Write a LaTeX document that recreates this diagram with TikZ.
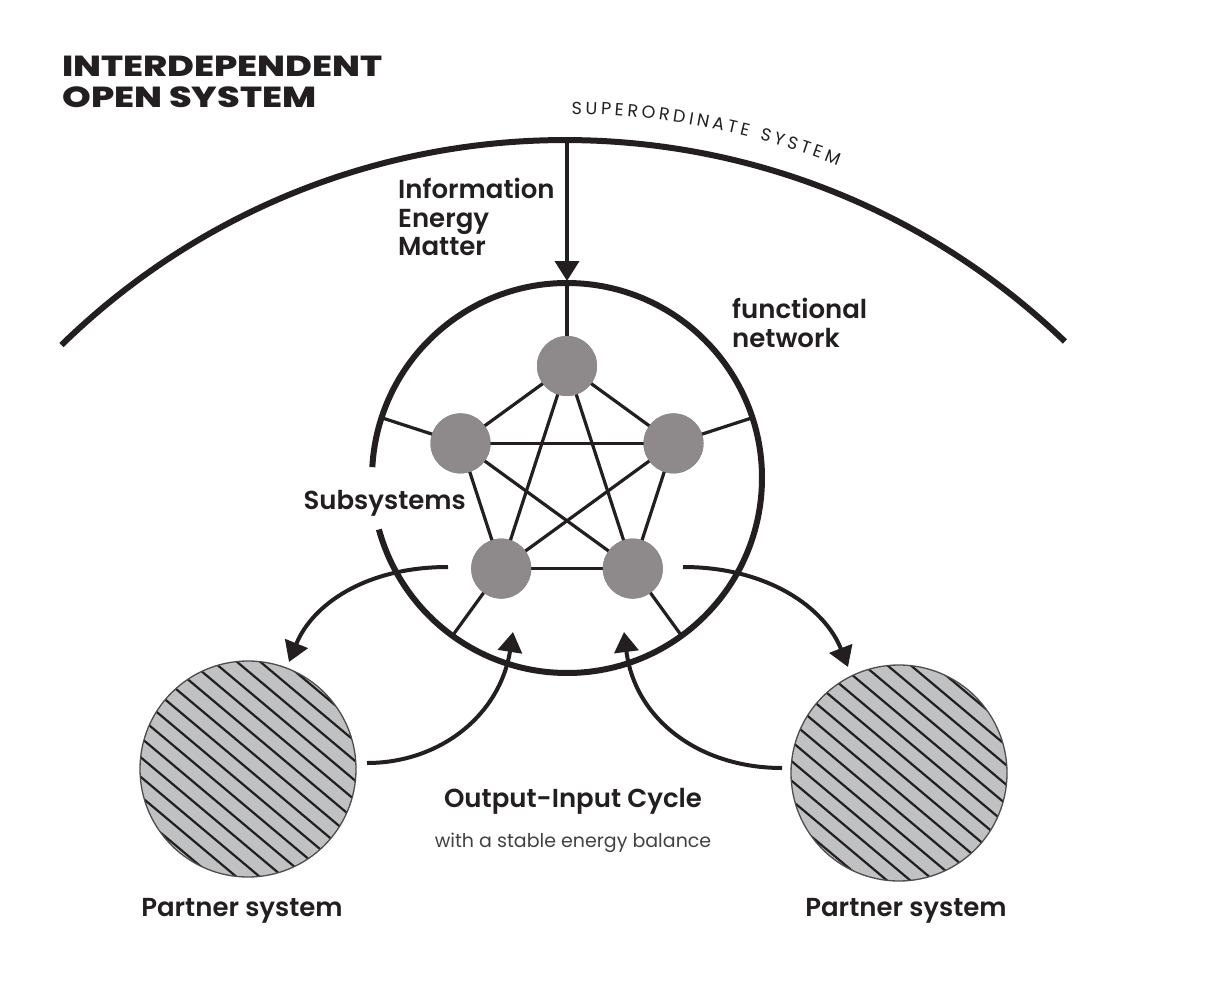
\documentclass[tikz,border=0pt]{standalone}
\usepackage{fontspec}
\setmainfont{Poppins}
\newfontfamily\pmed{Poppins SemiBold}
\newfontfamily\pxb{Poppins ExtraBold}
\usetikzlibrary{arrows.meta,decorations.text}
\definecolor{ink}{HTML}{231F20}
\definecolor{nodegray}{HTML}{8E898B}
\definecolor{partnergray}{HTML}{C0C1C3}
\newcommand\arcfont{\fontsize{17.5}{17.5}\selectfont}
\begin{document}
\begin{tikzpicture}[x=1pt,y=-1pt,
  lbl/.style={text=ink, font=\pmed\fontsize{26}{26}\selectfont, inner sep=0pt},
  ttl/.style={text=ink, font=\pxb\fontsize{29}{29}\selectfont, inner sep=0pt, xscale=1.26},
  small/.style={text=ink!85, font=\fontsize{19}{19}\selectfont, inner sep=0pt},
  sub/.style={circle, fill=nodegray, minimum size=60pt, inner sep=0pt},
  partner/.style={circle, fill=partnergray, minimum size=216pt, inner sep=0pt},
  net/.style={ink, line width=3.2pt},
  heavy/.style={ink, line width=6pt},
  flowarrow/.style={ink, line width=4pt, -{Triangle[length=20pt,width=24pt]}},
  hatch/.style={ink, line width=2.2pt},
  rim/.style={ink!80, line width=1.3pt}]
\fill[white] (0,0) rectangle (1216,1006);
\useasboundingbox (0,0) rectangle (1216,1006);

% title
\node[ttl, anchor=base west] (t1) at (62,77) {INTERDEPENDENT};
\node[ttl, anchor=base west] (t2) at (62,108) {OPEN SYSTEM};

% superordinate arc
\draw[heavy] (565,861) ++(225.7:721) arc[start angle=225.7, end angle=313.9, radius=721];
\path[decorate, decoration={text along path, text={|\arcfont\color{ink}|SUPERORDINATE SYSTEM}, text align={fit to path}}]
  (565,861) ++(270.5:747) arc[start angle=270.5, end angle=291.4, radius=747];

% inner system circle
\draw[heavy] (567,478) ++(183.2:195) arc[start angle=183.2, end angle=524.7, radius=195];

% coordinates
\coordinate (suptop) at (567,140);
\coordinate (intop) at (567,281);
\coordinate (e1) at (567,283);
\coordinate (e2) at (752.5,417.7);
\coordinate (e3) at (681.6,635.8);
\coordinate (e4) at (452.4,635.8);
\coordinate (e5) at (381.5,417.7);

% subsystems
\node[sub] (s1) at (567,366) {};
\node[sub] (s2) at (673.5,443.4) {};
\node[sub] (s3) at (632.8,568.6) {};
\node[sub] (s4) at (501.2,568.6) {};
\node[sub] (s5) at (460.5,443.4) {};

\foreach \a/\b in {s1/s2,s2/s3,s3/s4,s4/s5,s5/s1,s1/s3,s1/s4,s2/s4,s2/s5,s3/s5}
  \draw[net] (\a.center) -- (\b.center);
\foreach \i in {1,...,5}
  \draw[net] (s\i.center) -- (e\i);
% subsystem discs on top of the connecting lines
\foreach \i in {1,...,5}
  \fill[nodegray] (s\i.center) circle[radius=30];

% input arrow
\draw[flowarrow] (suptop) -- (intop);

% partner systems
\node[partner] (p1) at (248,769) {};
\node[partner] (p2) at (899,773) {};
\begin{scope}
  \clip (248,769) circle[radius=108];
  \foreach \k in {-8,...,8}
    \draw[hatch] (248,769) ++({-0.643*15*\k-140},{0.766*15*\k-117.5}) -- ++(280,235);
\end{scope}
\begin{scope}
  \clip (899,773) circle[radius=108];
  \foreach \k in {-8,...,8}
    \draw[hatch] (899,773) ++({-0.643*15*\k-140},{0.766*15*\k-117.5}) -- ++(280,235);
\end{scope}
\draw[rim] (p1.center) circle[radius=108];
\draw[rim] (p2.center) circle[radius=108];

% output-input arrows
\coordinate (o1) at (448,567);
\coordinate (i1) at (289,662);
\coordinate (o2) at (367,763);
\coordinate (i2) at (513,632);
\coordinate (o3) at (683,567);
\coordinate (i3) at (848,667);
\coordinate (o4) at (782,768);
\coordinate (i4) at (624,632);
\draw[flowarrow] (o1) .. controls (365,567) and (312,605) .. (i1);
\draw[flowarrow] (o2) .. controls (440,763) and (500,715) .. (i2);
\draw[flowarrow] (o3) .. controls (768,567) and (825,608) .. (i3);
\draw[flowarrow] (o4) .. controls (700,768) and (635,720) .. (i4);

% labels
\node[lbl, anchor=base west] (l1) at (398,199) {Information};
\node[lbl, anchor=base west] (l2) at (398,227) {Energy};
\node[lbl, anchor=base west] (l3) at (398,255) {Matter};
\node[lbl, anchor=base west] (f1) at (732,318) {functional};
\node[lbl, anchor=base west] (f2) at (732,347) {network};
\node[lbl, anchor=base east] (ss) at (466,509) {Subsystems};
\node[lbl, anchor=base] (oc) at (573,807) {Output-Input Cycle};
\node[small, anchor=base] (sb) at (573,847) {with a stable energy balance};
\node[lbl, anchor=base] (ps1) at (242,916) {Partner system};
\node[lbl, anchor=base] (ps2) at (906,916) {Partner system};
\end{tikzpicture}
\end{document}
